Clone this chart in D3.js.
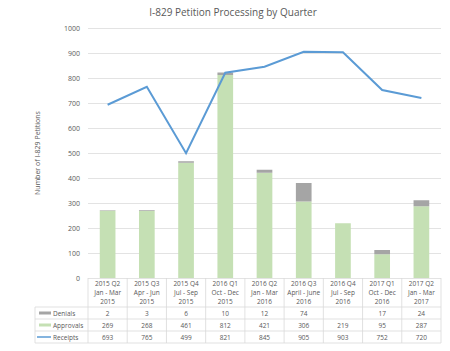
<!DOCTYPE html>
<html>
<head>
<meta charset="utf-8">
<script src="https://cdn.jsdelivr.net/npm/d3@7/dist/d3.min.js"></script>
<style>
  body { margin: 0; background: #fff; }
  text { font-family: "Open Sans", "DejaVu Sans", sans-serif; fill: #595959; }
</style>
</head>
<body>
<div id="chart"></div>
<script>
// data
const quarters = [
  ['2015 Q2', 'Jan - Mar', '2015'],
  ['2015 Q3', 'Apr - Jun', '2015'],
  ['2015 Q4', 'Jul - Sep', '2015'],
  ['2016 Q1', 'Oct - Dec', '2015'],
  ['2016 Q2', 'Jan - Mar', '2016'],
  ['2016 Q3', 'April - June', '2016'],
  ['2016 Q4', 'Jul - Sep', '2016'],
  ['2017 Q1', 'Oct - Dec', '2016'],
  ['2017 Q2', 'Jan - Mar', '2017']
];
const denials = [2, 3, 6, 10, 12, 74, null, 17, 24];
const approvals = [269, 268, 461, 812, 421, 306, 219, 95, 287];
const receipts = [693, 765, 499, 821, 845, 905, 903, 752, 720];
const yTicks = [0, 100, 200, 300, 400, 500, 600, 700, 800, 900, 1000];

const width = 450, height = 351;
const margin = {top: 28, left: 88, right: 10, bottom: 73};
const plotRight = 441;
const colors = {denials: '#a5a5a5', approvals: '#c5e0b4', receipts: '#5b9bd5', grid: '#e3e3e3'};

const svg = d3.select('#chart').append('svg')
    .attr('width', width)
    .attr('height', height);

const x = d3.scaleBand()
    .domain(d3.range(quarters.length))
    .range([margin.left, plotRight])
    .paddingInner(0.6)
    .paddingOuter(0.3);
const col = d3.scaleBand()
    .domain(d3.range(quarters.length))
    .range([margin.left, plotRight]);
const y = d3.scaleLinear().domain([0, 1000]).range([height - margin.bottom, margin.top]);

// title
svg.append('text')
    .attr('x', 233).attr('y', 16)
    .attr('text-anchor', 'middle')
    .style('font-size', '10px')
    .text('I-829 Petition Processing by Quarter');

// grid + y labels
const yAxis = svg.append('g')
    .attr('transform', 'translate(' + margin.left + ',0)')
    .call(d3.axisLeft(y).tickValues(yTicks).tickFormat(d3.format('d'))
        .tickSize(-(plotRight - margin.left)).tickPadding(8));
yAxis.select('.domain').remove();
yAxis.selectAll('line').attr('stroke', colors.grid);
yAxis.selectAll('text').style('font-size', '7px').attr('fill', '#595959');

svg.append('text')
    .attr('transform', 'translate(40,153) rotate(-90)')
    .attr('text-anchor', 'middle')
    .style('font-size', '7px')
    .text('Number of I-829 Petitions');

// stacked bars
const bars = svg.append('g');
bars.selectAll('rect.appr')
    .data(approvals)
    .enter().append('rect')
    .attr('class', 'appr')
    .attr('x', (d, i) => x(i))
    .attr('width', x.bandwidth())
    .attr('y', (d) => y(d))
    .attr('height', (d) => y(0) - y(d))
    .attr('fill', colors.approvals);
bars.selectAll('rect.den')
    .data(denials)
    .enter().append('rect')
    .attr('class', 'den')
    .attr('x', (d, i) => x(i))
    .attr('width', x.bandwidth())
    .attr('y', (d, i) => y(approvals[i] + (d || 0)))
    .attr('height', (d, i) => y(approvals[i]) - y(approvals[i] + (d || 0)))
    .attr('fill', colors.denials);

// receipts line
const line = d3.line()
    .x((d, i) => col(i) + col.bandwidth() / 2)
    .y((d) => y(d));
svg.append('path')
    .datum(receipts)
    .attr('d', line)
    .attr('fill', 'none')
    .attr('stroke', colors.receipts)
    .attr('stroke-width', 2);

// data table
const tableTop = y(0);
const headerH = 29;
const rowH = 12;
const legendLeft = 35;
const tbl = svg.append('g');
const borderColor = '#d9d9d9';

// header cells
quarters.forEach((q, i) => {
  const cx = col(i) + col.bandwidth() / 2;
  q.forEach((t, k) => {
    tbl.append('text')
        .attr('x', cx).attr('y', tableTop + 8 + k * 9)
        .attr('text-anchor', 'middle')
        .style('font-size', '6.5px')
        .text(t);
  });
});

const rows = [
  {name: 'Denials', values: denials, color: colors.denials, type: 'bar'},
  {name: 'Approvals', values: approvals, color: colors.approvals, type: 'bar'},
  {name: 'Receipts', values: receipts, color: colors.receipts, type: 'line'}
];
rows.forEach((r, ri) => {
  const ry = tableTop + headerH + ri * rowH;
  tbl.append('line')
      .attr('x1', r.type === 'line' ? legendLeft + 2 : legendLeft + 4)
      .attr('x2', legendLeft + 16)
      .attr('y1', ry + rowH / 2).attr('y2', ry + rowH / 2)
      .attr('stroke', r.color)
      .attr('stroke-width', r.type === 'line' ? 1.5 : 3);
  tbl.append('text')
      .attr('x', legendLeft + 18).attr('y', ry + rowH / 2 + 2.5)
      .style('font-size', '6.5px')
      .text(r.name);
  r.values.forEach((v, i) => {
    tbl.append('text')
        .attr('x', col(i) + col.bandwidth() / 2).attr('y', ry + rowH / 2 + 2.5)
        .attr('text-anchor', 'middle')
        .style('font-size', '6.5px')
        .text(v == null ? '' : v);
  });
});

// table borders
const tableBottom = tableTop + headerH + rows.length * rowH;
col.domain().concat([quarters.length]).forEach((i) => {
  const xx = i === quarters.length ? plotRight : col(i);
  tbl.append('line')
      .attr('x1', xx).attr('x2', xx)
      .attr('y1', tableTop).attr('y2', tableBottom)
      .attr('stroke', borderColor).attr('stroke-width', 0.8);
});
tbl.append('line')
    .attr('x1', legendLeft).attr('x2', legendLeft)
    .attr('y1', tableTop + headerH).attr('y2', tableBottom)
    .attr('stroke', borderColor).attr('stroke-width', 0.8);
[0, 1, 2, 3].forEach((k) => {
  const yy = tableTop + headerH + k * rowH;
  tbl.append('line')
      .attr('x1', legendLeft).attr('x2', plotRight)
      .attr('y1', yy).attr('y2', yy)
      .attr('stroke', borderColor).attr('stroke-width', 0.8);
});
</script>
</body>
</html>
